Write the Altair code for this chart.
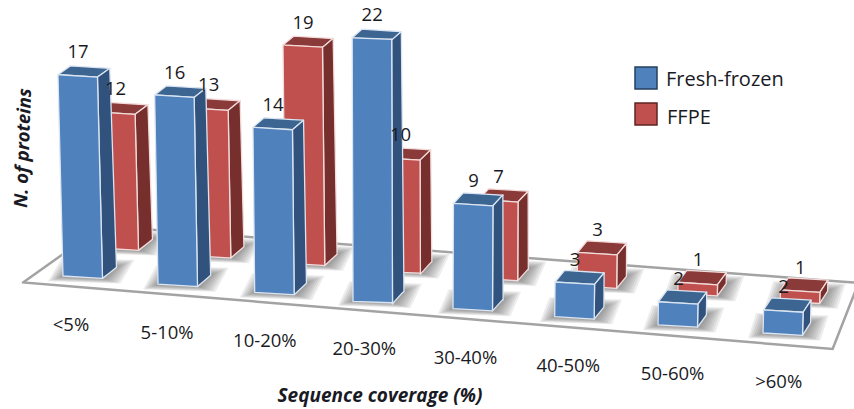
import altair as alt
import pandas as pd

# Protein counts per sequence-coverage class
categories = ["<5%", "5-10%", "10-20%", "20-30%", "30-40%", "40-50%", "50-60%", ">60%"]
fresh_frozen = [17, 16, 14, 22, 9, 3, 2, 2]
ffpe = [12, 13, 19, 10, 7, 3, 1, 1]
series_names = ["Fresh-frozen", "FFPE"]

x_title = "Sequence coverage (%)"
y_title = "N. of proteins"

BLUE = {"front": "#4f81bd", "top": "#3c6592", "side": "#30527c", "edge": "#dbe5f1"}
RED = {"front": "#c0504d", "top": "#8a3a38", "side": "#772f2d", "edge": "#f2dcdb"}
FONT = "Open Sans"
INK = "#1a1a24"
BAR_WIDTH = 39.5


def ground(s, r):
    """Oblique projection of the floor: s runs along the categories, r across the rows."""
    x = 63 + 94.17 * s + 0.833 * s * s + r * (36 - 2.7 * s)
    y = 276 + 8.14 * s + r * (-28 - 0.55 * s)
    return x, y


def project(i, row, w, d, value):
    """Screen position of a bar corner: w across the bar, d into its depth, at a given value."""
    # Height grows slightly faster than the value, as the top of a tall bar nears the viewer.
    hpx = value * (11.5 if row == 0 else 11.1) + 0.02 * value * value
    bx, by = ground(i, row)
    x = bx + w * BAR_WIDTH + (-0.025 + 0.0073 * i) * hpx
    y = by + w * BAR_WIDTH * 0.06 - hpx
    x += d * (14 - 0.85 * i) * (1 - 0.0006 * hpx)
    y -= d * (11 + 0.2 * i) * (1 - 0.001 * hpx)
    return x, y


def polygon_rows(points, poly_id, colour):
    """Turn a convex polygon into x / y / y2 rows that an area mark can fill."""
    xs = sorted({round(p[0], 2) for p in points})
    rows = []
    n = len(points)
    for x in xs:
        hits = []
        for k in range(n):
            (x0, y0), (x1, y1) = points[k], points[(k + 1) % n]
            lo, hi = min(x0, x1) - 0.011, max(x0, x1) + 0.011
            if lo <= x <= hi:
                if abs(x1 - x0) < 0.02:
                    hits += [y0, y1]
                else:
                    hits.append(y0 + (y1 - y0) * (x - x0) / (x1 - x0))
        rows.append({"x": x, "y": min(hits), "y2": max(hits), "poly": poly_id, "fill": colour})
    return rows


def bar_faces(i, row, value, colours, prefix):
    top = [project(i, row, 0, 0, value), project(i, row, 1, 0, value),
           project(i, row, 1, 1, value), project(i, row, 0, 1, value)]
    side = [project(i, row, 1, 0, value), project(i, row, 1, 1, value),
            project(i, row, 1, 1, 0), project(i, row, 1, 0, 0)]
    front = [project(i, row, 0, 0, value), project(i, row, 1, 0, value),
             project(i, row, 1, 0, 0), project(i, row, 0, 0, 0)]
    return (polygon_rows(top, f"{prefix}{i}a", colours["top"])
            + polygon_rows(side, f"{prefix}{i}b", colours["side"])
            + polygon_rows(front, f"{prefix}{i}c", colours["front"]))


def halo(i, row, pad, poly_id):
    corners = [project(i, row, 0, 0, 0), project(i, row, 1, 0, 0),
               project(i, row, 1, 1, 0), project(i, row, 0, 1, 0)]
    shifts = [(-pad, 0.35 * pad), (1.2 * pad, 0.35 * pad), (1.2 * pad, -0.5 * pad), (-pad, -0.5 * pad)]
    pts = [(c[0] + s[0], c[1] + s[1]) for c, s in zip(corners, shifts)]
    return polygon_rows(pts, poly_id, "#4a4a4a")


floor_rows = polygon_rows(
    [ground(-0.3, -0.32), ground(-0.25, 1.72), ground(7.65, 1.72), ground(7.7, -0.32)],
    "floor", "#ffffff",
)

shadow_rows = []
for row in (1, 0):
    for i in range(len(categories)):
        for n, pad in enumerate((3, 5, 7, 9, 11, 13, 15)):
            shadow_rows += halo(i, row, pad, f"s{row}{i}{n}")

red_rows, blue_rows = [], []
for i, v in enumerate(ffpe):
    red_rows += bar_faces(i, 1, v, RED, "r")
for i, v in enumerate(fresh_frozen):
    blue_rows += bar_faces(i, 0, v, BLUE, "b")

value_labels = []
for row, vals in ((1, ffpe), (0, fresh_frozen)):
    for i, v in enumerate(vals):
        x, y = project(i, row, 0, 0, v)
        value_labels.append({"x": x + 20, "y": y - 22.5, "label": str(v)})

category_labels = []
for i, name in enumerate(categories):
    x, y = ground(i, 0)
    category_labels.append({"x": x + 8 + 1.1 * i, "y": y + 49, "label": name})

legend_rows = [
    {"x": 635, "x2": 657, "y": 67, "y2": 89, "fill": BLUE["front"], "stroke": "#24405f"},
    {"x": 635, "x2": 657, "y": 103, "y2": 125, "fill": RED["front"], "stroke": "#5f2422"},
]
legend_labels = [
    {"x": 666, "y": 80, "label": series_names[0]},
    {"x": 667, "y": 118, "label": series_names[1]},
]

X = alt.X("x:Q", scale=alt.Scale(domain=[0, 854], nice=False, zero=False), axis=None)
Y = alt.Y("y:Q", scale=alt.Scale(domain=[409, 0], nice=False, zero=False), axis=None)


def area_layer(rows, **mark):
    return alt.Chart(pd.DataFrame(rows)).mark_area(orient="vertical", **mark).encode(
        x=X, y=Y, y2="y2:Q", detail="poly:N", color=alt.Color("fill:N", scale=None)
    )


def text_layer(rows, **mark):
    return alt.Chart(pd.DataFrame(rows)).mark_text(font=FONT, color=INK, **mark).encode(
        x=X, y=Y, text="label:N"
    )


floor = area_layer(floor_rows, stroke="#a3a3a3", strokeWidth=2.5)
shadows = area_layer(shadow_rows, opacity=0.1)
red_bars = area_layer(red_rows, stroke=RED["edge"], strokeWidth=1.3, strokeJoin="round")
blue_bars = area_layer(blue_rows, stroke=BLUE["edge"], strokeWidth=1.3, strokeJoin="round")

swatches = alt.Chart(pd.DataFrame(legend_rows)).mark_rect(strokeWidth=1.5).encode(
    x=X, x2="x2:Q", y=Y, y2="y2:Q",
    fill=alt.Fill("fill:N", scale=None), stroke=alt.Stroke("stroke:N", scale=None),
)

chart = alt.layer(
    floor,
    shadows,
    red_bars,
    blue_bars,
    text_layer(value_labels, fontSize=18.5),
    text_layer(category_labels, fontSize=18.5),
    text_layer([{"x": 380, "y": 396, "label": x_title}],
               fontSize=19, fontStyle="italic", fontWeight="bold"),
    text_layer([{"x": 23, "y": 148, "label": y_title}],
               fontSize=18.5, fontStyle="italic", fontWeight="bold", angle=272),
    swatches,
    text_layer(legend_labels, fontSize=20, align="left"),
).properties(
    width=854, height=409, padding=0, autosize=alt.AutoSizeParams(type="none"),
    background="#ffffff",
).configure_view(stroke=None)

chart.save("out.html", embed_options={"renderer": "svg", "actions": False})
